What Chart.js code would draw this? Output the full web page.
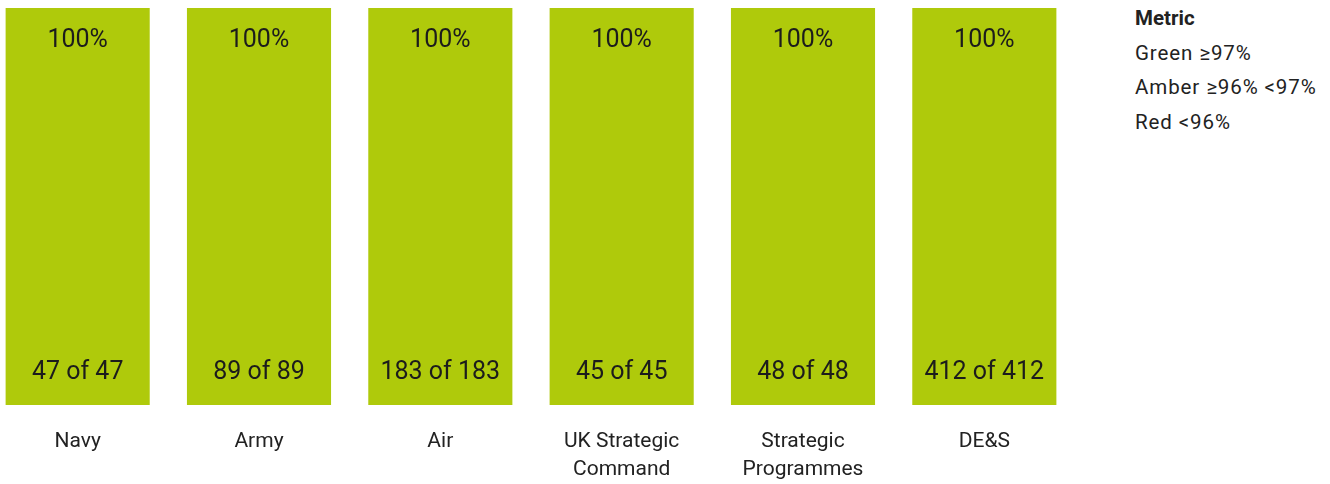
<!DOCTYPE html>
<html lang="en">
<head>
  <meta charset="UTF-8">
  <title>Metric by area</title>
  <style>
    body {
      margin: 0;
      background: #fff;
      font-family: Roboto, Arial, sans-serif;
      color: #222;
      width: 1330px;
      height: 484px;
      overflow: hidden;
      position: relative;
    }
    #wrap {
      position: absolute;
      left: -13px;
      top: 0;
      width: 1088px;
      height: 484px;
    }
    #legend {
      position: absolute;
      left: 1135px;
      top: 1px;
      font-size: 20.5px;
      letter-spacing: 0.9px;
      line-height: 34.7px;
      white-space: nowrap;
    }
    #legend b {
      font-weight: bold;
      letter-spacing: 0;
    }
  </style>
</head>
<body>
  <div id="wrap"><canvas id="chart"></canvas></div>
  <div id="legend">
    <div><b>Metric</b></div>
    <div>Green ≥97%</div>
    <div>Amber ≥96% &lt;97%</div>
    <div>Red &lt;96%</div>
  </div>

  <script src="https://cdn.jsdelivr.net/npm/chart.js"></script>
  <script>
    const areas = ['Navy', 'Army', 'Air', ['UK Strategic', 'Command'], ['Strategic', 'Programmes'], 'DE&S'];
    const percent = [100, 100, 100, 100, 100, 100];
    const achieved = [47, 89, 183, 45, 48, 412];
    const totals = [47, 89, 183, 45, 48, 412];
    const barColour = '#afca0b';

    // writes the % at the top and the "x of y" near the bottom of each bar
    const barText = {
      id: 'barText',
      afterDatasetsDraw(chart) {
        const ctx = chart.ctx;
        const meta = chart.getDatasetMeta(0);
        ctx.save();
        ctx.fillStyle = '#1c1c1c';
        ctx.font = '25px Roboto, Arial, sans-serif';
        ctx.textAlign = 'center';
        ctx.textBaseline = 'middle';
        meta.data.forEach((bar, i) => {
          ctx.fillText(percent[i] + '%', bar.x, bar.y + 33);
          ctx.fillText(achieved[i] + ' of ' + totals[i], bar.x, bar.base - 32);
        });
        ctx.restore();
      }
    };

    new Chart(document.getElementById('chart'), {
      type: 'bar',
      data: {
        labels: areas,
        datasets: [{
          data: percent,
          backgroundColor: barColour,
          borderWidth: 0,
          categoryPercentage: 1,
          barPercentage: 144 / 181.2
        }]
      },
      options: {
        responsive: true,
        maintainAspectRatio: false,
        animation: false,
        layout: { padding: { top: 8, left: 0, right: 0, bottom: 0 } },
        plugins: {
          legend: { display: false },
          tooltip: { enabled: false }
        },
        scales: {
          y: {
            display: false,
            min: 0,
            max: 100
          },
          x: {
            grid: { display: false },
            border: { display: false },
            ticks: {
              color: '#222',
              padding: 15,
              maxRotation: 0,
              autoSkip: false,
              font: { family: 'Roboto, Arial, sans-serif', size: 21, lineHeight: 1.33 }
            },
            afterFit(scale) {
              scale.height = 79;
            }
          }
        }
      },
      plugins: [barText]
    });
  </script>
</body>
</html>
